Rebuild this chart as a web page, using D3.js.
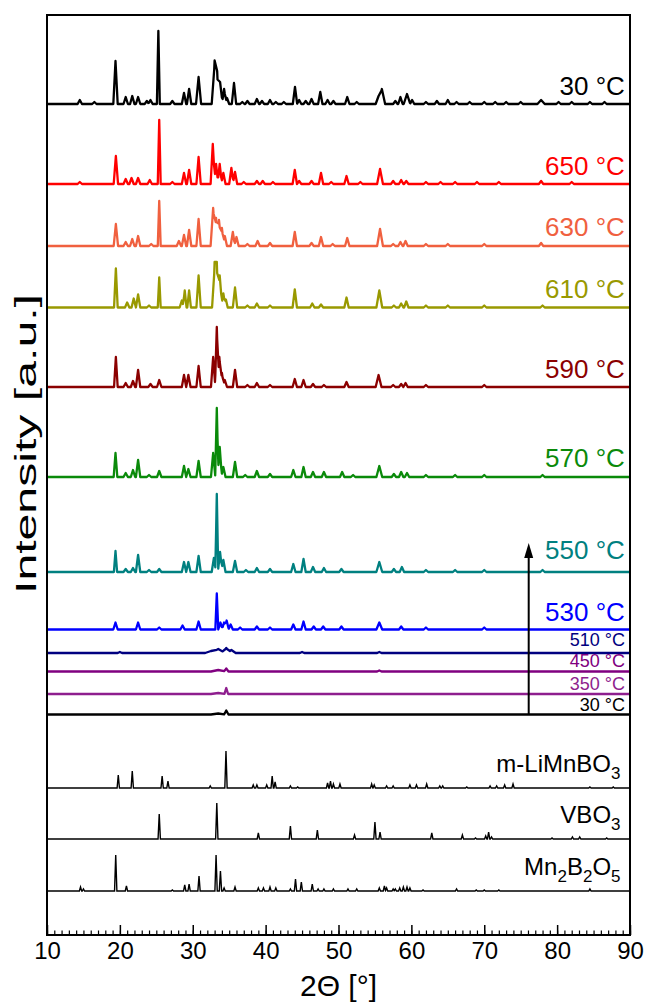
<!DOCTYPE html>
<html>
<head>
<meta charset="utf-8">
<script src="https://cdn.jsdelivr.net/npm/d3@7"></script>
<style>
  body { margin: 0; background: #fff; }
  text { font-family: Arial, "Liberation Sans", sans-serif; }
</style>
</head>
<body>
<svg id="chart" width="647" height="1002"></svg>
<script>
// peak lists: [2theta, height, half width (optional)]
var p30top = [[14.5,4],[16.5,2],[19.4,43],[20.8,7],[21.7,8],[22.5,7],[23.7,3],[24.2,4],[25.28,73,0.2],[27.2,3],
  [28.8,11],[29.5,15],[30.8,27,0.35],[33.0,40,0.4],[33.35,28,0.4],[33.75,22,0.35],[34.3,15,0.3],[34.7,6],[35.66,21],
  [36.8,2],[37.5,3],[38.8,5],[39.5,3],[40.6,4],[41.4,2],[42.5,2],[44.03,17],[44.6,4],[45.5,3],[46.3,5],[47.5,12],
  [48.5,4],[49.3,3],[51.2,7],[52.5,2],[55.5,8,0.4],[55.95,15,0.45],[57.8,3],[58.5,7],[59.4,10,0.45],[60.1,4],[62,2],
  [63.5,3],[65,4],[66.2,2],[68,2],[70,2],[71.5,2],[73,2],[75,2],[77.8,4,0.5],[80.2,2],[82,2],[84.5,2],[86.5,2]];
var p650 = [[14.5,2],[19.45,28],[20.8,5],[21.6,6],[22.5,6],[24.1,4],[25.4,64,0.2],[27.2,2],[28.8,11],[29.5,14],
  [30.8,27],[32.75,40,0.3],[33.2,20,0.3],[33.7,20,0.3],[34.2,11],[35.3,16],[35.8,12],[37,2],[38.8,3],[39.6,3],[41,2],
  [44.0,14],[44.6,3],[46.3,3],[47.6,11],[49,2],[51.1,8],[53,2],[55.7,15,0.4],[57.5,3],[58.6,4],[59.3,3],[62,2],
  [64,2],[66,2],[69,2],[72,2],[77.8,3],[82,2]];
var p630 = [[19.45,22],[20.8,4],[21.7,7],[22.5,10],[24.3,2],[25.4,45,0.2],[28.1,5],[28.8,11],[29.5,16],[30.8,27],
  [32.8,38,0.35],[33.2,28,0.35],[33.6,26,0.35],[34.0,18],[34.4,10],[35.5,14],[36.0,9],[37.5,2],[38.9,5],[40.6,3],
  [44.0,14],[46.3,3],[47.6,9],[49.2,2],[51.2,8],[55.7,17,0.4],[57.5,2],[58.5,4],[59.2,5],[62,2],[65,2],[70,2],[77.8,3]];
var p610 = [[19.45,39,0.25],[21.0,5],[21.9,9],[22.5,13],[24,2],[25.4,30,0.2],[28.5,7],[28.9,17,0.25],[29.5,17,0.25],
  [30.8,32],[33.0,40,0.35],[33.3,40,0.35],[33.7,32,0.35],[34.2,14],[34.55,8,0.25],[35.8,20],[37.5,2],[38.8,4],
  [40.6,2],[44.0,18],[46.4,4],[47.6,3],[51.1,10],[55.6,17,0.4],[57.6,2],[58.6,4],[59.3,6],[62,2],[65,2],[70,2],[78,2]];
var p590 = [[19.45,30,0.25],[20.8,4],[21.8,6],[22.5,17],[24.2,3],[25.4,7],[28.8,12],[29.4,12],[30.8,21],
  [32.8,30,0.3],[33.3,60,0.25],[33.65,30,0.3],[34.0,14],[34.4,7],[35.8,17],[37.5,2],[38.8,4],[40.6,2],[44.0,8],
  [45.2,7],[46.5,3],[48,2],[51.1,5],[55.5,12,0.4],[57.5,2],[58.6,3],[59.2,4],[62,2],[70,2]];
var p570 = [[19.4,24,0.25],[20.8,4],[21.8,7],[22.5,17],[24,2],[25.4,6],[28.8,11],[29.4,8],[30.8,16],[32.8,24,0.3],
  [33.3,69,0.22],[33.7,30,0.3],[34.2,10],[35.8,15],[37.2,2],[38.8,6],[40.6,3],[43.8,7],[45.2,10],[46.5,5],[48.0,5],
  [50.5,5],[52,2],[55.6,11,0.4],[57.6,3],[58.6,5],[59.4,4],[62,2],[66,2],[70,2],[78,2]];
var p550 = [[19.4,21,0.22],[20.8,3],[21.8,4],[22.5,17],[24,2],[25.4,3],[28.8,10],[29.4,10],[30.8,16],[32.9,14,0.3],
  [33.3,78,0.2],[33.75,20,0.3],[34.2,12],[35.8,11],[37.3,2],[38.8,4],[40.6,3],[43.8,8],[45.2,13],[46.5,5],[48.0,4],
  [50.4,3],[55.6,10,0.4],[57.6,3],[58.7,5],[62,2],[66,2],[70,2],[78,2]];
var p530 = [[19.4,7],[22.5,7],[25.4,2],[28.6,4],[30.8,8],[33.3,36,0.2],[33.8,7],[34.3,7],[34.65,9],[35.2,5],
  [36.5,2],[38.8,3],[40.6,2],[43.8,5],[45.2,8],[46.6,3],[47.9,3],[50.4,3],[55.6,7,0.4],[58.6,3],[62,2],[70,2]];
var p510 = [[20,1],[32.5,2,0.8],[33.5,4,1.0],[34.6,5,0.5],[35.3,3,0.6],[45,1],[55.6,1]];
var p450 = [[33.5,1.5,1],[34.6,3],[55.6,1]];
var p350 = [[33.5,1,1],[34.6,6,0.25]];
var p30bot = [[33.5,1,1],[34.6,4,0.3]];

// reference patterns (sticks)
var refLiMnBO3 = [[19.78,13],[21.7,17],[25.8,12],[26.6,7],[32.4,2],[34.56,37],[38.3,3],[38.8,3],[40.15,3],[40.9,12],
  [41.3,6],[43.4,2],[44.4,1],[48.5,5],[48.9,7],[49.3,4],[50.2,4],[54.55,4],[54.9,3],[56.6,2],[57.5,2],[59.8,3],
  [60.7,3],[62.1,4],[63.9,2],[64.3,2],[67.6,1],[70.8,2],[71.7,2],[72.8,3],[73.95,4],[84.5,1],[87.7,1]];
var refVBO3 = [[25.4,25],[33.3,36],[39.0,6],[43.4,13],[47.1,9],[52.2,4],[55.0,17],[55.7,7],[62.8,6],[67.0,4],
  [68.8,1],[70.2,3],[70.6,7],[71.0,2],[79.3,1],[82.1,2],[83.1,2],[86.8,1]];
var refMn2B2O5 = [[14.6,4],[15.0,2],[19.43,36],[20.9,5],[27.2,1],[28.9,6],[29.5,7],[30.86,15],[33.2,36],[33.8,20],
  [34.3,3],[35.8,4],[39.0,3],[39.7,3],[40.6,4],[41.4,3],[43.4,2],[44.1,12],[44.9,9],[46.4,7],[47.2,2],[48.0,2],
  [49.3,2],[51.3,2],[52.5,2],[55.6,3],[56.3,5],[56.6,3],[57.5,2],[57.8,2],[58.4,3],[58.9,4],[59.4,4],[59.8,3],
  [61.6,1],[66.2,2],[68.9,1],[70,1],[72,1],[84.5,2]];

// series: label, colour, vertical offset (intensity units)
var seriesNames   = ["30 °C","650 °C","630 °C","610 °C","590 °C","570 °C","550 °C","530 °C","510 °C","450 °C","350 °C","30 °C"];
var seriesColors  = ["#000000","#ff0000","#f0603f","#999900","#8b0000","#0a8a0a","#008080","#0000ff","#000080","#800080","#8e1e8e","#000000"];
var seriesOffsets = [831, 751, 689, 627.5, 548, 458, 363, 305.5, 282, 263.5, 241, 220.5];
var seriesPeaks   = [p30top, p650, p630, p610, p590, p570, p550, p530, p510, p450, p350, p30bot];

var refNames   = [["m-LiMnBO","3"], ["VBO","3"], ["Mn","2","B","2","O","5"]];
var refOffsets = [147, 96, 44];
var refPeaks   = [refLiMnBO3, refVBO3, refMn2B2O5];

var xMajor = d3.range(10, 91, 10);
var xMinor = d3.range(10, 91, 1);
var arrowX = 76.1, arrowTop = 392;

var svg = d3.select("#chart");
var margin = {top: 15, right: 17, bottom: 67, left: 47},
    width = 647 - margin.left - margin.right,
    height = 1002 - margin.top - margin.bottom;

var g = svg.append("g")
    .attr("transform", "translate(" + margin.left + "," + margin.top + ")");

var x = d3.scaleLinear().domain([10, 90]).range([0, width]);
var y = d3.scaleLinear().domain([0, height]).range([height, 0]);

// build line vertices from a peak list (triangular peaks on a flat baseline)
function profile(peaks, hw) {
  var xs = [10, 90];
  peaks.forEach(function(p) {
    var w = p[2] || hw;
    xs.push(p[0] - w, p[0], p[0] + w);
  });
  xs = Array.from(new Set(xs)).sort(d3.ascending);
  return xs.map(function(t) {
    var v = d3.sum(peaks, function(p) {
      var w = p[2] || hw;
      return p[1] * Math.max(0, 1 - Math.abs(t - p[0]) / w);
    });
    return [t, v];
  });
}

svg.append("clipPath").attr("id", "plotclip")
  .append("rect").attr("width", width).attr("height", height);

var plot = g.append("g").attr("clip-path", "url(#plotclip)");

// measured patterns
seriesPeaks.forEach(function(peaks, i) {
  var off = seriesOffsets[i];
  var line = d3.line()
      .x(function(d) { return x(d[0]); })
      .y(function(d) { return y(off + d[1]); });
  plot.append("path")
      .datum(profile(peaks, 0.3))
      .attr("fill", "none")
      .attr("stroke", seriesColors[i])
      .attr("stroke-width", 2.3)
      .attr("stroke-linejoin", "round")
      .attr("d", line);
});

// reference patterns
refPeaks.forEach(function(peaks, i) {
  var off = refOffsets[i];
  var line = d3.line()
      .x(function(d) { return x(d[0]); })
      .y(function(d) { return y(off + d[1]); });
  plot.append("path")
      .datum(profile(peaks, 0.16))
      .attr("fill", "none")
      .attr("stroke", "#000")
      .attr("stroke-width", 1.4)
      .attr("d", line);
});

// series labels
var bigLabel = [true, true, true, true, true, true, true, true, false, false, false, false];
var labelGap = [9, 9, 10, 10, 9, 10, 13, 9, 7, 5, 4, 4];
seriesNames.forEach(function(name, i) {
  g.append("text")
      .attr("x", x(89.3))
      .attr("y", y(seriesOffsets[i] + labelGap[i]))
      .attr("text-anchor", "end")
      .attr("fill", seriesColors[i])
      .style("font-size", bigLabel[i] ? "26px" : "18px")
      .text(name);
});

// reference labels with subscripts
refNames.forEach(function(parts, i) {
  var t = g.append("text")
      .attr("x", x(88.7))
      .attr("y", y(refOffsets[i] + 16))
      .attr("text-anchor", "end")
      .style("font-size", "24px");
  parts.forEach(function(s, j) {
    var sub = j % 2 === 1;
    t.append("tspan")
      .attr("dy", j === 0 ? 0 : (sub ? 7 : -7))
      .style("font-size", sub ? "17px" : "24px")
      .text(s);
  });
});

// arrow
g.append("line")
    .attr("x1", x(arrowX)).attr("x2", x(arrowX))
    .attr("y1", y(seriesOffsets[11])).attr("y2", y(arrowTop) + 10)
    .attr("stroke", "#000").attr("stroke-width", 2);
g.append("path")
    .attr("d", "M" + (x(arrowX) - 4.5) + "," + (y(arrowTop) + 15) +
               "L" + x(arrowX) + "," + y(arrowTop) +
               "L" + (x(arrowX) + 4.5) + "," + (y(arrowTop) + 15) + "Z")
    .attr("fill", "#000");

// x axis with inward ticks
var xAxis = g.append("g")
    .attr("transform", "translate(0," + height + ")")
    .call(d3.axisBottom(x).tickValues(xMajor).tickSize(-10).tickPadding(7).tickFormat(d3.format("d")));
xAxis.select(".domain").remove();
xAxis.selectAll("line").attr("stroke-width", 1.5);
xAxis.selectAll("text").style("font-size", "24px").attr("fill", "#000")
    .style("font-family", "Arial, 'Liberation Sans', sans-serif");

var xMinorAxis = g.append("g")
    .attr("transform", "translate(0," + height + ")")
    .call(d3.axisBottom(x).tickValues(xMinor).tickSize(-4.5).tickFormat(""));
xMinorAxis.select(".domain").remove();
xMinorAxis.selectAll("line").attr("stroke-width", 1.2);

// frame
g.append("rect")
    .attr("width", width).attr("height", height)
    .attr("fill", "none").attr("stroke", "#000").attr("stroke-width", 2);

// axis titles
svg.append("text")
    .attr("x", margin.left + x(50))
    .attr("y", 996)
    .attr("text-anchor", "middle")
    .style("font-size", "30px")
    .text("2Θ [°]");

svg.append("text")
    .attr("transform", "translate(36,444) rotate(-90)")
    .attr("text-anchor", "middle")
    .attr("textLength", 300)
    .attr("lengthAdjust", "spacingAndGlyphs")
    .style("font-size", "30px")
    .text("Intensity [a.u.]");
</script>
</body>
</html>
